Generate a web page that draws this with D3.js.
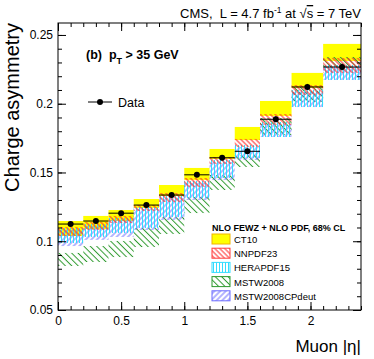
<!DOCTYPE html>
<html><head><meta charset="utf-8">
<script src="https://cdn.jsdelivr.net/npm/d3@7"></script>
<style>
html,body{margin:0;padding:0;background:#fff;}
svg{display:block;font-family:"Liberation Sans",Arial,Helvetica,sans-serif;}
</style></head>
<body>
<script>
// ---- data ----
const etaEdges = [0,0.2,0.4,0.6,0.8,1.0,1.2,1.4,1.6,1.85,2.1,2.4];
const dataVals = [0.1125,0.1147,0.1204,0.1263,0.1336,0.1483,0.1607,0.1654,0.1887,0.2122,0.2267];
const dataErr  = [0.0016,0.0016,0.0016,0.0017,0.0017,0.0018,0.0019,0.0019,0.0021,0.0022,0.0025];
const ct10Lo  = [0.1038,0.1089,0.1147,0.1242,0.1329,0.1445,0.1598,0.1736,0.1911,0.2115,0.2311];
const ct10Hi  = [0.1147,0.1184,0.1227,0.1307,0.1409,0.1533,0.1671,0.1831,0.2020,0.2224,0.2435];
const nnpdfLo = [0.1038,0.1082,0.1133,0.1220,0.1285,0.1395,0.1562,0.1685,0.1845,0.2064,0.2224];
const nnpdfHi = [0.1104,0.1140,0.1184,0.1264,0.1351,0.1460,0.1613,0.1744,0.1925,0.2136,0.2333];
const heraLo  = [0.0987,0.1031,0.1060,0.1096,0.1176,0.1315,0.1460,0.1605,0.1758,0.1976,0.2173];
const heraHi  = [0.1096,0.1125,0.1169,0.1249,0.1329,0.1438,0.1591,0.1700,0.1867,0.2100,0.2282];
const mstwLo  = [0.0820,0.0849,0.0885,0.0958,0.1053,0.1205,0.1373,0.1540,0.1773,0.2013,0.2260];
const mstwHi  = [0.0915,0.0965,0.1002,0.1096,0.1176,0.1322,0.1482,0.1627,0.1896,0.2122,0.2340];
const cpLo    = [0.0965,0.1010,0.1031,0.1082,0.1155,0.1300,0.1445,0.1591,0.1758,0.1976,0.2173];
const cpHi    = [0.1082,0.1110,0.1155,0.1235,0.1315,0.1424,0.1576,0.1685,0.1853,0.2085,0.2267];
const yTickVals = [0.05,0.1,0.15,0.2,0.25];
const yTickLabels = ["0.05","0.1","0.15","0.2","0.25"];
const xTickVals = [0,0.5,1,1.5,2];
const xTickLabels = ["0","0.5","1","1.5","2"];
const legendNames = ["CT10","NNPDF23","HERAPDF15","MSTW2008","MSTW2008CPdeut"];

// ---- layout ----
const W = 374, H = 359;
const L = 58, R = 361, T = 23, B = 310;
const x = d3.scaleLinear().domain([0,2.4]).range([L,R]);
const y = d3.scaleLinear().domain([0.05,0.2587]).range([B,T]);

const svg = d3.select("body").append("svg").attr("width",W).attr("height",H);
const defs = svg.append("defs");
defs.append("clipPath").attr("id","clip").append("rect")
  .attr("x",L).attr("y",T).attr("width",R-L).attr("height",B-T);

function hatch(id, color, spacing, angle, sw){
  const p = defs.append("pattern").attr("id",id).attr("patternUnits","userSpaceOnUse")
    .attr("width",spacing).attr("height",spacing)
    .attr("patternTransform","rotate("+angle+")");
  p.append("line").attr("x1",spacing/2).attr("y1",0).attr("x2",spacing/2).attr("y2",spacing)
    .attr("stroke",color).attr("stroke-width",sw);
}
hatch("hRed","#ff2a2a",3.5,-45,1);
hatch("hCyan","#33ddff",3,0,1);
hatch("hGreen","#2e9a2e",4.5,-45,1);
hatch("hBlue","#6a6aff",4,45,1);

const bands = [
  {lo:ct10Lo, hi:ct10Hi, fill:"#ffff00", stroke:"#f0b400"},
  {lo:nnpdfLo, hi:nnpdfHi, fill:"url(#hRed)", stroke:"#ff3b3b"},
  {lo:heraLo, hi:heraHi, fill:"url(#hCyan)", stroke:"#33ddff"},
  {lo:mstwLo, hi:mstwHi, fill:"url(#hGreen)", stroke:"#2e9a2e"},
  {lo:cpLo, hi:cpHi, fill:"url(#hBlue)", stroke:"#6a6aff"}
];
const drawOrder = [0,3,4,2,1];
const bins = d3.range(dataVals.length);
const plot = svg.append("g").attr("clip-path","url(#clip)");
drawOrder.forEach(k=>{
  const b = bands[k];
  plot.append("g").selectAll("rect").data(bins).join("rect")
    .attr("x",i=>x(etaEdges[i]))
    .attr("width",i=>x(etaEdges[i+1])-x(etaEdges[i]))
    .attr("y",i=>y(b.hi[i]))
    .attr("height",i=>y(b.lo[i])-y(b.hi[i]))
    .attr("fill",b.fill);
});

// data
const dg = svg.append("g");
dg.selectAll("line.h").data(bins).join("line")
  .attr("x1",i=>x(etaEdges[i])).attr("x2",i=>x(etaEdges[i+1]))
  .attr("y1",i=>y(dataVals[i])).attr("y2",i=>y(dataVals[i]))
  .attr("stroke","#000").attr("stroke-width",1);
dg.selectAll("line.v").data(bins).join("line")
  .attr("x1",i=>x((etaEdges[i]+etaEdges[i+1])/2)).attr("x2",i=>x((etaEdges[i]+etaEdges[i+1])/2))
  .attr("y1",i=>y(dataVals[i]-dataErr[i])).attr("y2",i=>y(dataVals[i]+dataErr[i]))
  .attr("stroke","#000").attr("stroke-width",1);
dg.selectAll("circle").data(bins).join("circle")
  .attr("cx",i=>x((etaEdges[i]+etaEdges[i+1])/2)).attr("cy",i=>y(dataVals[i]))
  .attr("r",3).attr("fill","#000");

// axes
const minorY = d3.range(0.05,0.2595,0.01);
const minorX = d3.range(0,2.4001,0.1);
function styleAxis(g){ g.select(".domain").remove(); g.selectAll("line").attr("stroke","#000"); }
svg.append("g").attr("transform",`translate(${L},0)`)
  .call(d3.axisLeft(y).tickValues(yTickVals).tickSize(-8).tickPadding(5)
    .tickFormat((d,i)=>yTickLabels[i]))
  .call(styleAxis)
  .call(g=>g.selectAll("text").attr("font-size",12).attr("fill","#000").attr("font-family","Liberation Sans, Arial, sans-serif"));
svg.append("g").attr("transform",`translate(${L},0)`)
  .call(d3.axisLeft(y).tickValues(minorY).tickSize(-4).tickFormat("")).call(styleAxis);
svg.append("g").attr("transform",`translate(${R},0)`)
  .call(d3.axisRight(y).tickValues(yTickVals).tickSize(-8).tickFormat("")).call(styleAxis);
svg.append("g").attr("transform",`translate(${R},0)`)
  .call(d3.axisRight(y).tickValues(minorY).tickSize(-4).tickFormat("")).call(styleAxis);
svg.append("g").attr("transform",`translate(0,${B})`)
  .call(d3.axisBottom(x).tickValues(xTickVals).tickSize(-8).tickPadding(6)
    .tickFormat((d,i)=>xTickLabels[i]))
  .call(styleAxis)
  .call(g=>g.selectAll("text").attr("font-size",12).attr("fill","#000").attr("font-family","Liberation Sans, Arial, sans-serif"));
svg.append("g").attr("transform",`translate(0,${B})`)
  .call(d3.axisBottom(x).tickValues(minorX).tickSize(-4).tickFormat("")).call(styleAxis);
svg.append("g").attr("transform",`translate(0,${T})`)
  .call(d3.axisTop(x).tickValues(xTickVals).tickSize(-8).tickFormat("")).call(styleAxis);
svg.append("g").attr("transform",`translate(0,${T})`)
  .call(d3.axisTop(x).tickValues(minorX).tickSize(-4).tickFormat("")).call(styleAxis);

svg.append("rect").attr("x",L).attr("y",T).attr("width",R-L).attr("height",B-T)
  .attr("fill","none").attr("stroke","#000").attr("stroke-width",1);

// titles
const t = svg.append("text").attr("x",R).attr("y",18).attr("text-anchor","end").attr("font-size",13)
  .attr("xml:space","preserve").style("white-space","pre");
t.append("tspan").text("CMS,  L = 4.7 fb");
t.append("tspan").attr("font-size",8.5).attr("dy",-5).text("-1");
t.append("tspan").attr("dy",5).text(" at ");
t.append("tspan").text("\u221A");
t.append("tspan").attr("text-decoration","overline").text("s");
t.append("tspan").text(" = 7 TeV");

const pt = svg.append("text").attr("x",86).attr("y",59).attr("font-size",12.5).attr("font-weight","bold")
  .style("white-space","pre");
pt.append("tspan").text("(b)  p");
pt.append("tspan").attr("font-size",9).attr("dy",5).text("T");
pt.append("tspan").attr("dy",-5).text(" > 35 GeV");

svg.append("text").attr("transform","translate(19,23) rotate(-90)").attr("text-anchor","end")
  .attr("font-size",20).text("Charge asymmetry");
svg.append("text").attr("x",R).attr("y",352).attr("text-anchor","end").attr("font-size",17)
  .text("Muon |\u03B7|");

// data legend
svg.append("line").attr("x1",88).attr("x2",112).attr("y1",102).attr("y2",102).attr("stroke","#000");
svg.append("circle").attr("cx",100).attr("cy",102).attr("r",3).attr("fill","#000");
svg.append("text").attr("x",118).attr("y",107).attr("font-size",12.5).text("Data");

// theory legend
svg.append("text").attr("x",212).attr("y",231).attr("font-size",9).attr("font-weight","bold")
  .text("NLO FEWZ + NLO PDF, 68% CL");
const lg = svg.append("g").selectAll("g").data(legendNames).join("g")
  .attr("transform",(d,i)=>`translate(212,${234+i*14.2})`);
lg.append("rect").attr("width",18).attr("height",10)
  .attr("fill",(d,i)=>bands[i].fill).attr("stroke",(d,i)=>bands[i].stroke).attr("stroke-width",1);
lg.append("text").attr("x",22).attr("y",9).attr("font-size",9.5).text(d=>d);
</script>
</body></html>
